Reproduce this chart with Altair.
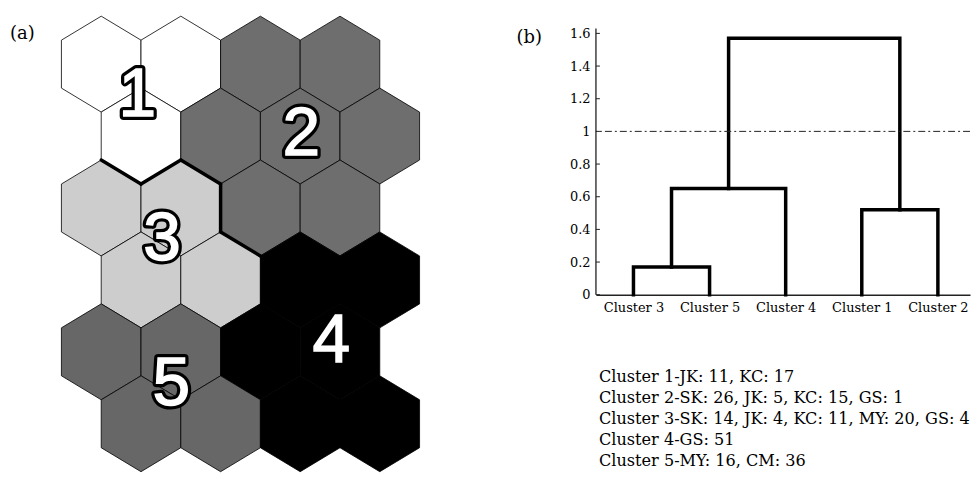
import altair as alt
import pandas as pd

# ---------------- Panel (a): SOM map (6 rows x 4 hexagonal nodes) ----------------
grid_clusters = [
    [1, 1, 2, 2],
    [1, 2, 2, 2],
    [3, 3, 2, 2],
    [3, 3, 4, 4],
    [5, 5, 4, 4],
    [5, 5, 4, 4],
]
cluster_ids = [1, 2, 3, 4, 5]
cluster_colors = ["#ffffff", "#6e6e6e", "#cdcdcd", "#000000", "#676767"]
thick_pairs = [(1, 3), (2, 3)]

label_text = ["1", "2", "3", "4", "5"]
label_x = [0.91, 5.03, 1.53, 5.78, 1.76]
label_row = [0.45, 0.99, 2.44, 3.87, 4.46]

# ---------------- Panel (b): dendrogram ----------------
leaf_names = ["Cluster 3", "Cluster 5", "Cluster 4", "Cluster 1", "Cluster 2"]
merge_left = [0, 5, 3, 6]
merge_right = [1, 2, 4, 7]
merge_height = [0.17, 0.65, 0.52, 1.57]
cut_level = [1.0]
y_ticks = [0, 0.2, 0.4, 0.6, 0.8, 1, 1.2, 1.4, 1.6]
axis_top = [1.63]

member_cluster = [1, 2, 3, 4, 5]
member_lists = [
    [("JK", 11), ("KC", 17)],
    [("SK", 26), ("JK", 5), ("KC", 15), ("GS", 1)],
    [("SK", 14), ("JK", 4), ("KC", 11), ("MY", 20), ("GS", 4)],
    [("GS", 51)],
    [("MY", 16), ("CM", 36)],
]

# ---- build hex table
hex_rows = []
pos = {}
for r, row in enumerate(grid_clusters):
    for c, cl in enumerate(row):
        x = 2 * c + (r % 2)
        hex_rows.append({"x": x, "row": r, "cluster": cl})
        pos[(x, r)] = cl
hex_df = pd.DataFrame(hex_rows)

# ---- shared edges between clusters that carry a heavy border
edges = []
for (x, r), cl in pos.items():
    for (nx, nr), seg in [
        ((x + 2, r), ((x + 1, r - 1 / 3), (x + 1, r + 1 / 3))),
        ((x + 1, r + 1), ((x + 1, r + 1 / 3), (x, r + 2 / 3))),
        ((x - 1, r + 1), ((x - 1, r + 1 / 3), (x, r + 2 / 3))),
    ]:
        if (nx, nr) in pos:
            pair = tuple(sorted((cl, pos[(nx, nr)])))
            if pair in thick_pairs:
                edges.append({"x": seg[0][0], "y": seg[0][1], "x2": seg[1][0], "y2": seg[1][1]})
edge_df = pd.DataFrame(edges)

lab_df = pd.DataFrame({"t": label_text, "x": label_x, "row": label_row})

hx = alt.Scale(domain=[-2.3425, 12.1825], nice=False, zero=False)
hy = alt.Scale(domain=[-0.7635, 5.7235], nice=False, zero=False, reverse=True)

hex_path = "M0,-1L0.83,-0.5L0.83,0.5L0,1L-0.83,0.5L-0.83,-0.5Z"

hexes = alt.Chart(hex_df).mark_point(
    shape=hex_path, size=9293, filled=True, stroke="black", strokeWidth=0.8, opacity=1, fillOpacity=1
).encode(
    x=alt.X("x:Q", scale=hx, axis=None),
    y=alt.Y("row:Q", scale=hy, axis=None),
    fill=alt.Fill("cluster:N", scale=alt.Scale(domain=cluster_ids, range=cluster_colors), legend=None),
)

heavy = alt.Chart(edge_df).mark_rule(color="black", strokeWidth=3.5, strokeCap="round").encode(
    x=alt.X("x:Q", scale=hx, axis=None),
    y=alt.Y("y:Q", scale=hy, axis=None),
    x2="x2:Q",
    y2="y2:Q",
)

lab_base = alt.Chart(lab_df).encode(
    x=alt.X("x:Q", scale=hx, axis=None),
    y=alt.Y("row:Q", scale=hy, axis=None),
    text="t:N",
)
lab_outline = lab_base.mark_text(
    font="Liberation Sans", fontSize=68, fontWeight="normal", fill="black",
    stroke="black", strokeWidth=8, strokeJoin="round", baseline="middle", align="center"
)
lab_fill = lab_base.mark_text(
    font="Liberation Sans", fontSize=68, fontWeight="normal", fill="white",
    stroke="white", strokeWidth=1.4, baseline="middle", align="center"
)

tag_a = alt.Chart(pd.DataFrame({"t": ["(a)"]})).mark_text(
    font="DejaVu Serif", fontSize=18, align="left", baseline="middle", color="black"
).encode(x=alt.value(2), y=alt.value(25), text="t:N")

left = alt.layer(hexes, heavy, lab_outline, lab_fill, tag_a).properties(width=581, height=469)

# ---- dendrogram geometry
node_x = [i + 1 for i in range(len(leaf_names))]
node_h = [0.0] * len(leaf_names)
seg_rows = []
for k, (a, b, h) in enumerate(zip(merge_left, merge_right, merge_height)):
    pts = [(node_x[a], node_h[a]), (node_x[a], h), (node_x[b], h), (node_x[b], node_h[b])]
    for o, (px, py) in enumerate(pts):
        seg_rows.append({"m": k, "o": o, "x": px, "h": py})
    node_x.append((node_x[a] + node_x[b]) / 2)
    node_h.append(h)
seg_df = pd.DataFrame(seg_rows)

dx = alt.Scale(domain=[0.507, 5.422], nice=False, zero=False)
dy = alt.Scale(domain=[0, 1.748], nice=False, zero=False)

label_expr = "[" + ",".join("'%s'" % n for n in leaf_names) + "][datum.value - 1]"

y_axis = alt.Axis(
    values=y_ticks, format="~g", ticks=False, grid=False, title=None, domain=False,
    labelFont="DejaVu Serif", labelFontSize=13, labelColor="black", labelPadding=6,
    labelOverlap=False)

dendro = alt.Chart(seg_df).mark_line(color="black", strokeWidth=3.5, strokeJoin="miter", strokeCap="square").encode(
    x=alt.X("x:Q", scale=dx, axis=alt.Axis(
        values=[1, 2, 3, 4, 5], labelExpr=label_expr, ticks=False, grid=False, title=None,
        domain=True, domainColor="#222222", domainWidth=1.6, labelFont="DejaVu Serif",
        labelFontSize=13, labelColor="black", labelPadding=7, labelOverlap=False)),
    y=alt.Y("h:Q", scale=dy, axis=y_axis),
    detail="m:N",
    order="o:Q",
)

cut = alt.Chart(pd.DataFrame({"h": cut_level})).mark_rule(
    color="#222222", strokeWidth=1, strokeDash=[7, 3, 2, 3]
).encode(y=alt.Y("h:Q", scale=dy, axis=y_axis))

yline = alt.Chart(pd.DataFrame({"h": [0], "h2": axis_top})).mark_rule(color="#222222", strokeWidth=1.3).encode(
    x=alt.value(0), y=alt.Y("h:Q", scale=dy, axis=y_axis), y2="h2:Q"
)

yticks = alt.Chart(pd.DataFrame({"h": y_ticks})).mark_rule(color="#222222", strokeWidth=1).encode(
    x=alt.value(0), x2=alt.value(4), y=alt.Y("h:Q", scale=dy, axis=y_axis)
)

lines = []
for cid, members in zip(member_cluster, member_lists):
    lines.append("Cluster %d-" % cid + ", ".join("%s: %d" % (n, v) for n, v in members))
text_block = alt.Chart(pd.DataFrame({"t": ["\n".join(lines)]})).mark_text(
    font="DejaVu Serif", fontSize=16.2, align="left", baseline="alphabetic",
    lineBreak="\n", lineHeight=21, color="black"
).encode(x=alt.value(3), y=alt.value(375), text="t:N")

tag_b = alt.Chart(pd.DataFrame({"t": ["(b)"]})).mark_text(
    font="DejaVu Serif", fontSize=18, align="center", baseline="middle", color="black"
).encode(x=alt.value(-67), y=alt.value(29), text="t:N")

right = alt.layer(dendro, cut, yline, yticks, text_block, tag_b).properties(width=376, height=287)

chart = alt.hconcat(left, right, spacing=10, bounds="flush", padding=0).configure_view(stroke=None)

chart.save("out.html", embed_options={"renderer": "svg", "actions": False})
